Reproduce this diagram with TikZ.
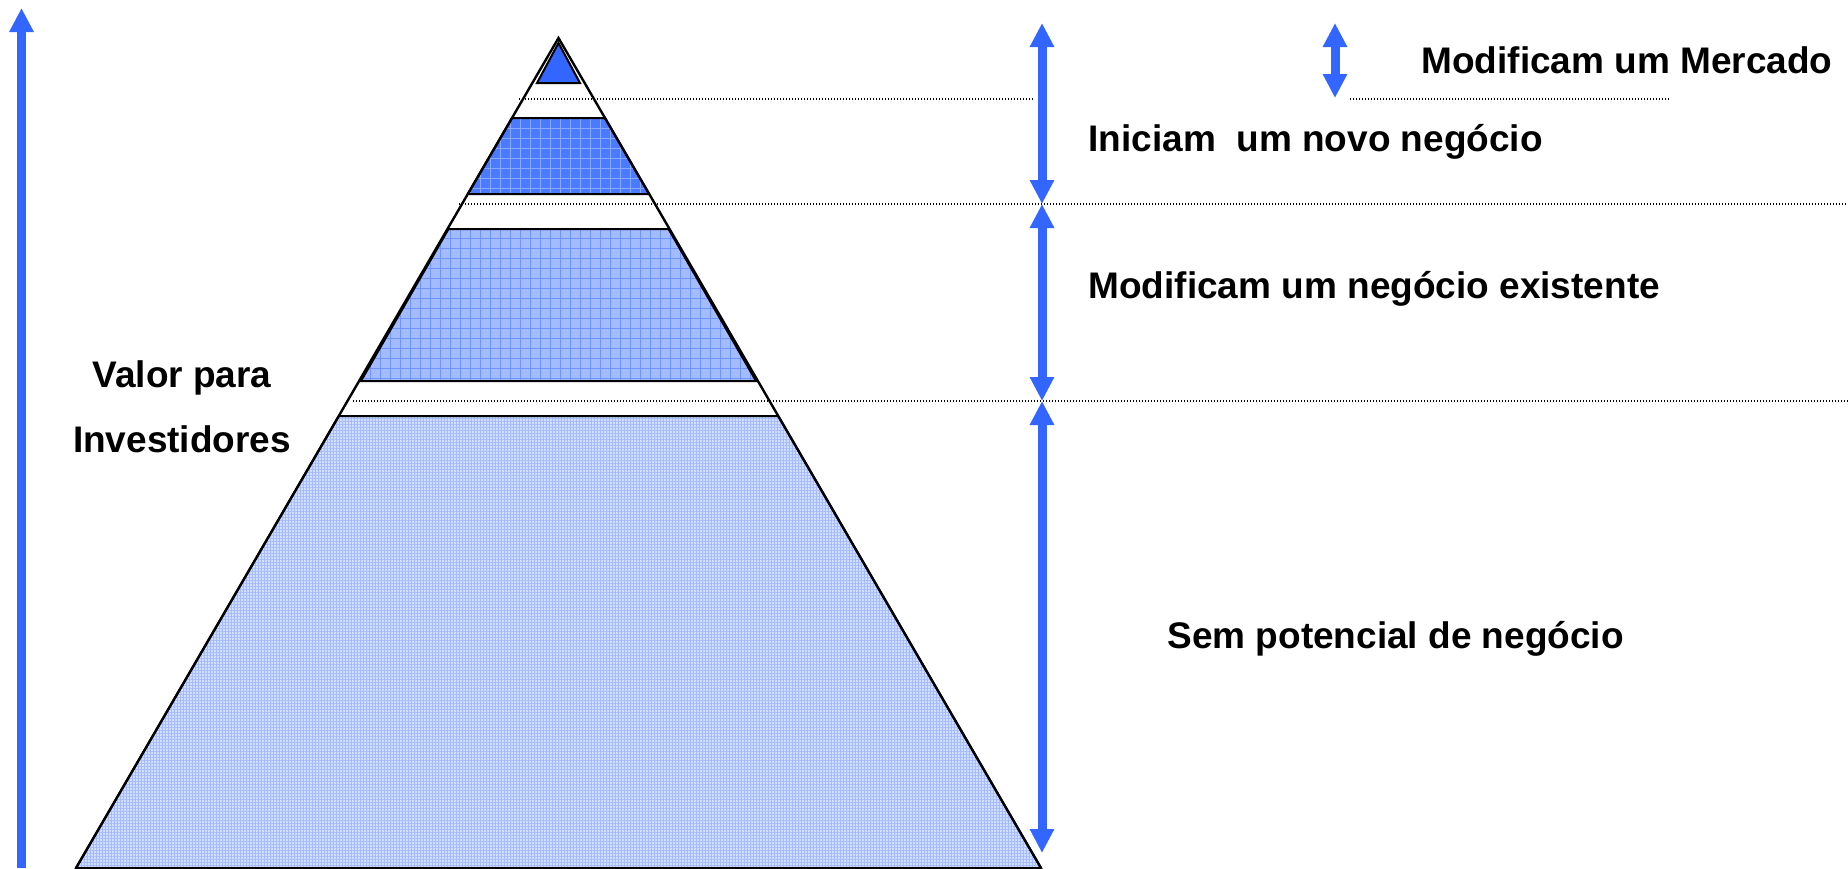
\documentclass[tikz,border=0pt]{standalone}
\usepackage{fontspec}
\setmainfont{Liberation Sans}
\usetikzlibrary{arrows.meta,patterns.meta}

\definecolor{arrowblue}{HTML}{3366FF}
\definecolor{toptri}{HTML}{3366FF}
\definecolor{bandtwo}{HTML}{4A7AFF}
\definecolor{bandthree}{HTML}{A3BBFF}
\definecolor{bandfour}{HTML}{D2DEFF}

\begin{document}
\begin{tikzpicture}[x=0.5pt,y=-0.5pt,
  lbl/.style={font=\fontsize{18.5}{22}\selectfont\bfseries, inner sep=0pt},
  dblarrow/.style={arrowblue, line width=4.5pt, {Triangle[width=11.5pt,length=12pt]}-{Triangle[width=11.5pt,length=12pt]}},
  guide/.style={black, line width=0.6pt, dash pattern=on 0.6pt off 0.9pt},
  bandtwofill/.style={preaction={fill=bandtwo}, preaction={pattern={Hatch[angle=0,distance=5pt,line width=0.4pt]}, pattern color=bandtwo!65!white}, draw=black, line width=1pt},
  bandthreefill/.style={preaction={fill=bandthree}, preaction={pattern={Hatch[angle=0,distance=5pt,line width=0.4pt]}, pattern color=arrowblue!70!white}, draw=black, line width=1pt},
  bandfourfill/.style={preaction={fill=bandfour}, preaction={pattern={Hatch[angle=0,distance=1.5pt,line width=0.25pt]}, pattern color=arrowblue!45!white}, draw=black, line width=1pt}]
\useasboundingbox (0,0) rectangle (1848,868);

% pyramid
\coordinate (apex) at (558.5,38);
\coordinate (bl) at (76,868);
\coordinate (br) at (1041,868);

\draw[fill=toptri, line width=1pt] (558.5,43) -- (580,83) -- (537,83) -- cycle;
\draw[bandtwofill] (512,118) -- (605,118) -- (649.2,194) -- (467.8,194) -- cycle;
\draw[bandthreefill] (448.5,229) -- (668.5,229) -- (756,381) -- (361,381) -- cycle;
\draw[bandfourfill] (338.8,416) -- (778.2,416) -- (1041,868) -- (76,868) -- cycle;

\draw[line width=1.2pt, line join=miter] (bl) -- (apex) -- (br);

% dotted guides
\draw[guide] (519,99) -- (1033,99);
\draw[guide] (1350,99) -- (1669,99);
\draw[guide] (459,204) -- (1848,204);
\draw[guide] (353,401) -- (1848,401);

% arrows
\coordinate (vbot) at (21.5,868);
\coordinate (vtop) at (21.5,8);
\coordinate (r0) at (1042,23);
\coordinate (r1) at (1042,204);
\coordinate (r2) at (1042,401);
\coordinate (r3) at (1042,853);
\coordinate (m0) at (1335,23);
\coordinate (m1) at (1335,98);

\draw[arrowblue, line width=4.5pt, -{Triangle[width=11.5pt,length=12pt]}] (vbot) -- (vtop);
\draw[dblarrow] (r0) -- (r1);
\draw[dblarrow] (r1) -- (r2);
\draw[dblarrow] (r2) -- (r3);
\draw[dblarrow] (m0) -- (m1);

% labels
\node[lbl, anchor=base west] (mercado) at (1421,73) {Modificam um Mercado};
\node[lbl, anchor=base west] (iniciam) at (1088,151) {Iniciam\ \ um novo negócio};
\node[lbl, anchor=base west] (existente) at (1088,298) {Modificam um negócio existente};
\node[lbl, anchor=base west] (sem) at (1167,648) {Sem potencial de negócio};
\node[lbl, anchor=base] (valor) at (182,387) {Valor para};
\node[lbl, anchor=base] (invest) at (182,452) {Investidores};
\end{tikzpicture}
\end{document}
